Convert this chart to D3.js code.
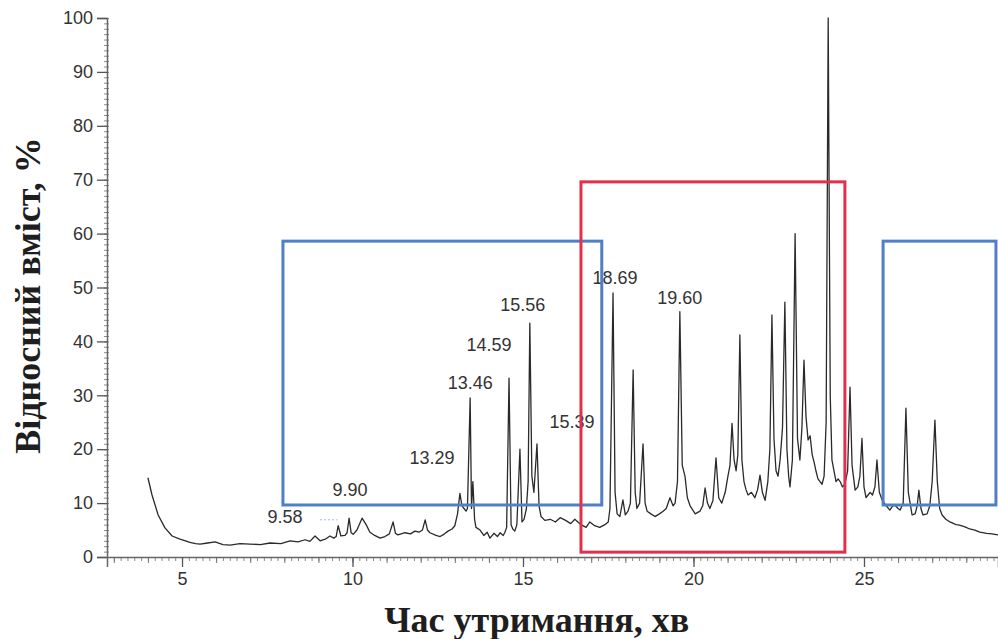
<!DOCTYPE html>
<html>
<head>
<meta charset="utf-8">
<script src="https://cdn.jsdelivr.net/npm/d3@7"></script>
<style>
  body { margin: 0; background: #fff; }
  svg { display: block; }
  .tick text { font-family: "Liberation Sans", Arial, sans-serif; font-size: 18px; fill: #333; }
  .axis-title { font-family: "Liberation Serif", "Times New Roman", serif; font-weight: bold; fill: #1e1e1e; }
  .peak-label { font-family: "Liberation Sans", Arial, sans-serif; font-size: 18px; fill: #333; }
</style>
</head>
<body>
<svg id="chart" width="998" height="639"></svg>
<script>
const svg = d3.select("#chart");
const width = 998,
  height = 639;

// chromatogram trace: [retention time (min), relative content (%)]
const trace = [
  [4.00, 14.7], [4.12, 11.5], [4.30, 7.8], [4.50, 5.4], [4.71, 3.9], [4.94, 3.3], [5.10, 3.0],
  [5.23, 2.7], [5.40, 2.5], [5.53, 2.4], [5.75, 2.6], [5.97, 2.8], [6.20, 2.3], [6.41, 2.2],
  [6.70, 2.5], [6.99, 2.4], [7.30, 2.3], [7.58, 2.6], [7.90, 2.5], [8.17, 3.0], [8.40, 2.8],
  [8.61, 3.2], [8.75, 2.9], [8.90, 3.9], [9.05, 3.0], [9.20, 3.3], [9.34, 3.9], [9.45, 3.5],
  [9.52, 3.8], [9.58, 5.8], [9.66, 3.9], [9.78, 4.0], [9.84, 4.5], [9.90, 7.2], [9.96, 4.5],
  [10.02, 4.2], [10.13, 5.0], [10.28, 7.2], [10.40, 6.0], [10.51, 4.6], [10.65, 4.0], [10.81, 3.5],
  [10.95, 3.8], [11.08, 4.3], [11.19, 6.5], [11.26, 4.4], [11.33, 4.1], [11.54, 4.5], [11.70, 4.3],
  [11.83, 4.8], [11.95, 4.6], [12.05, 5.0], [12.13, 6.9], [12.20, 5.0], [12.27, 4.5], [12.45, 4.0],
  [12.57, 3.8], [12.70, 4.3], [12.80, 4.8], [12.92, 5.2], [13.00, 5.8], [13.08, 8.0], [13.15, 11.8],
  [13.21, 9.5], [13.27, 9.0], [13.33, 8.5], [13.37, 9.0], [13.45, 29.5], [13.49, 9.0], [13.53, 14.0],
  [13.58, 7.0], [13.62, 5.5], [13.74, 5.0], [13.85, 4.0], [13.95, 4.6], [14.03, 3.5], [14.15, 4.4],
  [14.25, 3.8], [14.33, 4.5], [14.42, 4.0], [14.47, 4.6], [14.52, 5.5], [14.59, 33.2], [14.65, 6.0],
  [14.70, 5.2], [14.76, 4.8], [14.82, 6.0], [14.91, 20.0], [14.97, 6.5], [15.03, 7.0], [15.10, 9.0],
  [15.15, 14.0], [15.20, 43.4], [15.26, 15.0], [15.32, 12.0], [15.41, 21.0], [15.47, 9.5], [15.53, 7.5],
  [15.64, 6.8], [15.80, 7.0], [15.95, 6.5], [16.09, 7.3], [16.25, 6.8], [16.40, 6.2], [16.52, 7.0],
  [16.70, 6.0], [16.85, 5.5], [16.96, 6.5], [17.10, 5.8], [17.25, 5.5], [17.40, 6.0], [17.50, 6.5],
  [17.55, 9.0], [17.64, 49.0], [17.70, 12.0], [17.76, 8.0], [17.84, 7.5], [17.93, 10.6], [18.00, 7.8],
  [18.08, 8.5], [18.15, 10.0], [18.23, 34.7], [18.29, 12.0], [18.34, 9.0], [18.42, 10.0], [18.52, 21.0],
  [18.58, 10.0], [18.64, 8.5], [18.75, 8.0], [18.87, 7.5], [19.00, 8.0], [19.11, 8.5], [19.20, 9.0],
  [19.31, 11.0], [19.40, 9.5], [19.46, 10.0], [19.53, 14.0], [19.60, 45.5], [19.67, 17.0], [19.75, 15.0],
  [19.82, 11.0], [19.90, 9.5], [20.05, 8.0], [20.19, 8.5], [20.27, 9.5], [20.34, 12.8], [20.41, 10.0],
  [20.48, 9.0], [20.57, 10.5], [20.66, 18.4], [20.74, 11.0], [20.83, 10.0], [20.93, 12.0], [21.01, 15.0],
  [21.07, 17.0], [21.13, 24.8], [21.19, 18.0], [21.25, 16.0], [21.30, 19.0], [21.36, 41.2], [21.42, 18.0],
  [21.48, 14.0], [21.54, 12.5], [21.60, 11.5], [21.70, 12.0], [21.80, 11.0], [21.88, 12.5], [21.95, 15.2],
  [22.02, 12.0], [22.10, 10.5], [22.18, 14.0], [22.24, 20.0], [22.30, 44.9], [22.36, 22.0], [22.42, 16.0],
  [22.48, 15.0], [22.54, 18.0], [22.61, 24.0], [22.68, 47.3], [22.74, 20.0], [22.79, 15.0], [22.83, 13.0],
  [22.90, 18.0], [22.98, 60.0], [23.05, 22.0], [23.12, 18.0], [23.18, 24.0], [23.24, 36.5], [23.30, 26.0],
  [23.36, 21.7], [23.42, 22.5], [23.48, 19.0], [23.54, 17.5], [23.59, 16.0], [23.65, 14.5], [23.71, 14.0],
  [23.77, 13.5], [23.83, 15.0], [23.89, 25.0], [23.95, 100.0], [24.01, 30.0], [24.06, 18.0], [24.12, 16.0],
  [24.18, 14.0], [24.24, 14.5], [24.30, 14.0], [24.37, 13.0], [24.44, 13.5], [24.52, 16.0], [24.59, 31.5],
  [24.65, 17.0], [24.74, 12.4], [24.82, 13.0], [24.88, 15.0], [24.94, 22.0], [25.00, 13.0], [25.06, 11.0],
  [25.12, 11.5], [25.18, 12.0], [25.25, 11.5], [25.32, 13.0], [25.38, 18.0], [25.45, 12.0], [25.53, 10.6],
  [25.65, 9.5], [25.76, 8.7], [25.84, 9.5], [25.91, 9.6], [26.00, 9.0], [26.06, 8.7], [26.15, 10.0],
  [26.23, 27.6], [26.30, 12.0], [26.41, 7.8], [26.50, 8.0], [26.56, 9.5], [26.61, 12.4], [26.67, 9.0],
  [26.73, 7.8], [26.85, 8.0], [26.93, 9.5], [27.00, 14.0], [27.08, 25.4], [27.15, 14.0], [27.22, 9.0],
  [27.29, 7.8], [27.40, 7.0], [27.52, 6.5], [27.70, 6.0], [27.80, 5.9], [27.96, 5.6], [28.10, 5.2],
  [28.25, 5.0], [28.40, 4.6], [28.60, 4.4], [28.75, 4.3], [28.93, 4.1]
];

// peak labels: text, time and value where the label sits
const peakLabels = [
  ["9.58", 8.02, 6.3],
  ["9.90", 9.93, 11.3],
  ["13.29", 12.33, 17.2],
  ["13.46", 13.45, 31.2],
  ["14.59", 14.0, 38.2],
  ["15.56", 14.99, 45.6],
  ["15.39", 16.44, 23.9],
  ["18.69", 17.7, 50.6],
  ["19.60", 19.6, 47.0]
];

// highlighted zones: [t0, t1, v0, v1, colour]
const zones = [
  [7.96, 17.31, 9.65, 58.6, "#4f7fc6"],
  [16.7, 24.44, 0.9, 69.6, "#e2304a"],
  [25.56, 28.87, 9.65, 58.6, "#4f7fc6"]
];

const xTicks = [5, 10, 15, 20, 25];
const yTicks = [0, 10, 20, 30, 40, 50, 60, 70, 80, 90, 100];

const x = d3.scaleLinear().domain([2.8, 28.93]).range([107, 998]);
const y = d3.scaleLinear().domain([0, 100]).range([557, 18]);

// minor ticks
svg
  .append("g")
  .attr("transform", `translate(0,${y(0)})`)
  .call(d3.axisBottom(x).tickValues(d3.range(3, 28.95, 0.2)).tickSize(4).tickFormat(""))
  .call((g) => g.select(".domain").remove())
  .selectAll("line")
  .attr("stroke", "#8a8a8a");

svg
  .append("g")
  .attr("transform", `translate(0,${y(0)})`)
  .call(d3.axisBottom(x).tickValues(d3.range(3, 29, 1)).tickSize(6).tickFormat(""))
  .call((g) => g.select(".domain").remove())
  .selectAll("line")
  .attr("stroke", "#777");

svg
  .append("g")
  .attr("transform", `translate(${x(2.8)},0)`)
  .call(d3.axisLeft(y).tickValues(d3.range(0, 101, 1)).tickSize(5).tickFormat(""))
  .call((g) => g.select(".domain").remove())
  .selectAll("line")
  .attr("stroke", "#8a8a8a")
  .attr("transform", "translate(2,0)");

// major axes
const xAxis = svg
  .append("g")
  .attr("transform", `translate(0,${y(0)})`)
  .call(d3.axisBottom(x).tickValues(xTicks).tickSize(10).tickPadding(5));
xAxis.select(".domain").attr("stroke", "#666").attr("stroke-width", 1.5);
xAxis.selectAll(".tick line").attr("stroke", "#555").attr("stroke-width", 1.3);

const yAxis = svg
  .append("g")
  .attr("transform", `translate(${x(2.8)},0)`)
  .call(d3.axisLeft(y).tickValues(yTicks).tickSize(10).tickPadding(4));
yAxis.select(".domain").attr("stroke", "#666").attr("stroke-width", 1.5);
yAxis.selectAll(".tick line").attr("stroke", "#555").attr("stroke-width", 1.3);

// chromatogram
const line = d3
  .line()
  .x((d) => x(d[0]))
  .y((d) => y(d[1]));

svg
  .append("path")
  .datum(trace)
  .attr("fill", "none")
  .attr("stroke", "#2a2a2a")
  .attr("stroke-width", 1.3)
  .attr("stroke-linejoin", "round")
  .attr("d", line);

// leader of the 9.58 label
svg
  .append("line")
  .attr("x1", x(9.05))
  .attr("y1", y(6.9))
  .attr("x2", x(9.56))
  .attr("y2", y(6.9))
  .attr("stroke", "#9db3df")
  .attr("stroke-width", 1)
  .attr("stroke-dasharray", "2,2");

svg
  .selectAll(".peak-label")
  .data(peakLabels)
  .enter()
  .append("text")
  .attr("class", "peak-label")
  .attr("x", (d) => x(d[1]))
  .attr("y", (d) => y(d[2]))
  .attr("text-anchor", "middle")
  .text((d) => d[0]);

// zone boxes
svg
  .selectAll(".zone")
  .data(zones)
  .enter()
  .append("rect")
  .attr("class", "zone")
  .attr("x", (d) => x(d[0]))
  .attr("y", (d) => y(d[3]))
  .attr("width", (d) => x(d[1]) - x(d[0]))
  .attr("height", (d) => y(d[2]) - y(d[3]))
  .attr("fill", "none")
  .attr("stroke", (d) => d[4])
  .attr("stroke-width", 3);

// axis titles
svg
  .append("text")
  .attr("class", "axis-title")
  .attr("transform", `translate(40,${y(48.5)}) rotate(-90)`)
  .attr("text-anchor", "middle")
  .attr("font-size", 36)
  .text("Відносний вміст, %");

svg
  .append("text")
  .attr("class", "axis-title")
  .attr("x", x(15.4))
  .attr("y", 632)
  .attr("text-anchor", "middle")
  .attr("font-size", 36)
  .text("Час утримання, хв");
</script>
</body>
</html>
